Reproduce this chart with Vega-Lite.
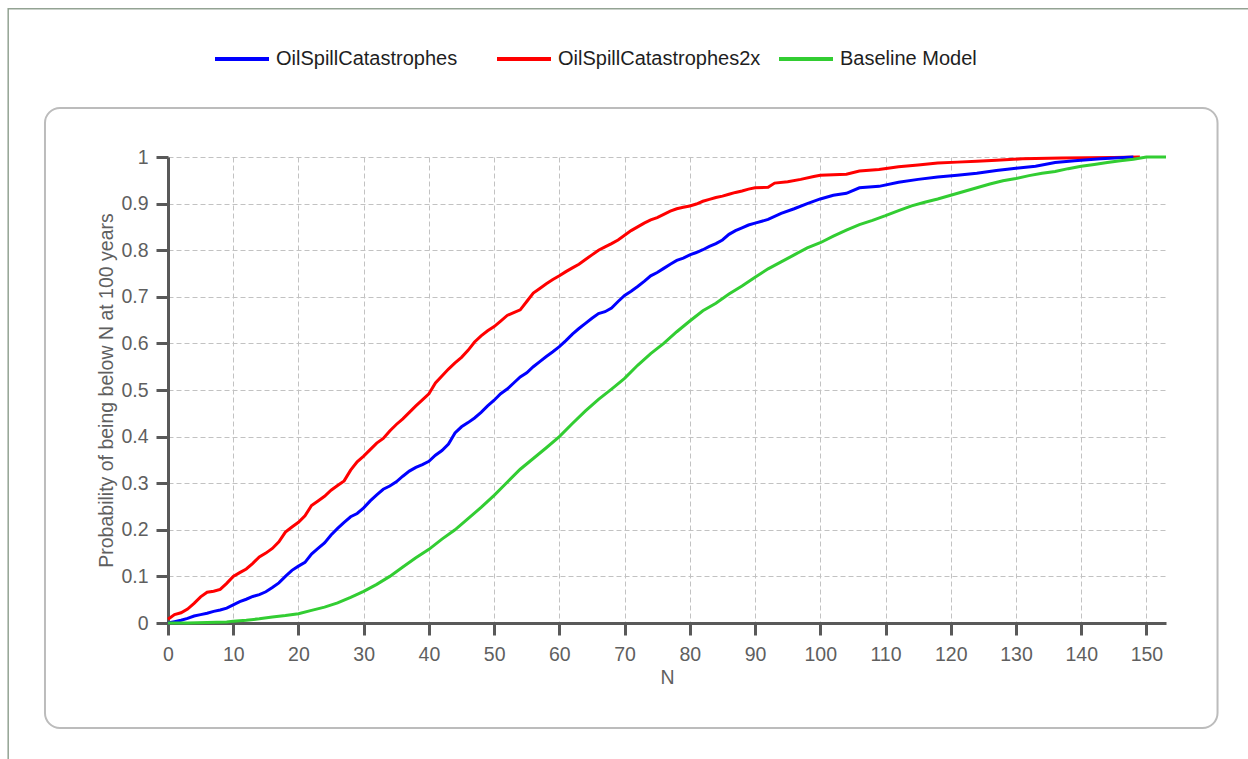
{
  "$schema": "https://vega.github.io/schema/vega-lite/v6.json",
  "width": 998,
  "height": 466,
  "autosize": {"type": "none"},
  "padding": {"left": 168, "top": 157, "right": 82, "bottom": 136},
  "background": "white",
  "config": {
    "view": {"stroke": null},
    "font": "Liberation Sans",
    "axis": {
      "domainColor": "#595959",
      "domainWidth": 3,
      "tickColor": "#595959",
      "tickWidth": 3,
      "gridColor": "#c2c2c2",
      "gridDash": [5, 3],
      "gridWidth": 1,
      "labelFont": "Liberation Sans",
      "labelFontSize": 19.5,
      "labelColor": "#5f5f5f",
      "titleFont": "Liberation Sans",
      "titleFontSize": 19.5,
      "titleFontWeight": "normal",
      "titleColor": "#5f5f5f"
    }
  },
  "datasets": {
    "curves": [
      {"s": "OilSpillCatastrophes2x", "N": 0, "p": 0.008},
      {"s": "OilSpillCatastrophes2x", "N": 1, "p": 0.018},
      {"s": "OilSpillCatastrophes2x", "N": 2, "p": 0.022},
      {"s": "OilSpillCatastrophes2x", "N": 3, "p": 0.03},
      {"s": "OilSpillCatastrophes2x", "N": 4, "p": 0.042},
      {"s": "OilSpillCatastrophes2x", "N": 5, "p": 0.056},
      {"s": "OilSpillCatastrophes2x", "N": 6, "p": 0.066},
      {"s": "OilSpillCatastrophes2x", "N": 7, "p": 0.068},
      {"s": "OilSpillCatastrophes2x", "N": 8, "p": 0.072},
      {"s": "OilSpillCatastrophes2x", "N": 9, "p": 0.085},
      {"s": "OilSpillCatastrophes2x", "N": 10, "p": 0.1},
      {"s": "OilSpillCatastrophes2x", "N": 11, "p": 0.108},
      {"s": "OilSpillCatastrophes2x", "N": 12, "p": 0.116},
      {"s": "OilSpillCatastrophes2x", "N": 13, "p": 0.128},
      {"s": "OilSpillCatastrophes2x", "N": 14, "p": 0.142},
      {"s": "OilSpillCatastrophes2x", "N": 15, "p": 0.15},
      {"s": "OilSpillCatastrophes2x", "N": 16, "p": 0.16},
      {"s": "OilSpillCatastrophes2x", "N": 17, "p": 0.174},
      {"s": "OilSpillCatastrophes2x", "N": 18, "p": 0.195},
      {"s": "OilSpillCatastrophes2x", "N": 19, "p": 0.206},
      {"s": "OilSpillCatastrophes2x", "N": 20, "p": 0.216},
      {"s": "OilSpillCatastrophes2x", "N": 21, "p": 0.23},
      {"s": "OilSpillCatastrophes2x", "N": 22, "p": 0.252},
      {"s": "OilSpillCatastrophes2x", "N": 23, "p": 0.262},
      {"s": "OilSpillCatastrophes2x", "N": 24, "p": 0.272},
      {"s": "OilSpillCatastrophes2x", "N": 25, "p": 0.285},
      {"s": "OilSpillCatastrophes2x", "N": 26, "p": 0.295},
      {"s": "OilSpillCatastrophes2x", "N": 27, "p": 0.305},
      {"s": "OilSpillCatastrophes2x", "N": 28, "p": 0.328},
      {"s": "OilSpillCatastrophes2x", "N": 29, "p": 0.346},
      {"s": "OilSpillCatastrophes2x", "N": 30, "p": 0.358},
      {"s": "OilSpillCatastrophes2x", "N": 31, "p": 0.372},
      {"s": "OilSpillCatastrophes2x", "N": 32, "p": 0.386},
      {"s": "OilSpillCatastrophes2x", "N": 33, "p": 0.396},
      {"s": "OilSpillCatastrophes2x", "N": 34, "p": 0.412},
      {"s": "OilSpillCatastrophes2x", "N": 35, "p": 0.426},
      {"s": "OilSpillCatastrophes2x", "N": 36, "p": 0.438},
      {"s": "OilSpillCatastrophes2x", "N": 37, "p": 0.452},
      {"s": "OilSpillCatastrophes2x", "N": 38, "p": 0.466},
      {"s": "OilSpillCatastrophes2x", "N": 39, "p": 0.479},
      {"s": "OilSpillCatastrophes2x", "N": 40, "p": 0.492},
      {"s": "OilSpillCatastrophes2x", "N": 41, "p": 0.515},
      {"s": "OilSpillCatastrophes2x", "N": 42, "p": 0.53},
      {"s": "OilSpillCatastrophes2x", "N": 43, "p": 0.545},
      {"s": "OilSpillCatastrophes2x", "N": 44, "p": 0.558},
      {"s": "OilSpillCatastrophes2x", "N": 45, "p": 0.57},
      {"s": "OilSpillCatastrophes2x", "N": 46, "p": 0.585},
      {"s": "OilSpillCatastrophes2x", "N": 47, "p": 0.603},
      {"s": "OilSpillCatastrophes2x", "N": 48, "p": 0.616},
      {"s": "OilSpillCatastrophes2x", "N": 49, "p": 0.627},
      {"s": "OilSpillCatastrophes2x", "N": 50, "p": 0.636},
      {"s": "OilSpillCatastrophes2x", "N": 51, "p": 0.648},
      {"s": "OilSpillCatastrophes2x", "N": 52, "p": 0.66},
      {"s": "OilSpillCatastrophes2x", "N": 53, "p": 0.666},
      {"s": "OilSpillCatastrophes2x", "N": 54, "p": 0.672},
      {"s": "OilSpillCatastrophes2x", "N": 55, "p": 0.69},
      {"s": "OilSpillCatastrophes2x", "N": 56, "p": 0.708},
      {"s": "OilSpillCatastrophes2x", "N": 57, "p": 0.718},
      {"s": "OilSpillCatastrophes2x", "N": 58, "p": 0.728},
      {"s": "OilSpillCatastrophes2x", "N": 59, "p": 0.737},
      {"s": "OilSpillCatastrophes2x", "N": 60, "p": 0.745},
      {"s": "OilSpillCatastrophes2x", "N": 61, "p": 0.754},
      {"s": "OilSpillCatastrophes2x", "N": 62, "p": 0.762},
      {"s": "OilSpillCatastrophes2x", "N": 63, "p": 0.77},
      {"s": "OilSpillCatastrophes2x", "N": 64, "p": 0.78},
      {"s": "OilSpillCatastrophes2x", "N": 65, "p": 0.79},
      {"s": "OilSpillCatastrophes2x", "N": 66, "p": 0.8},
      {"s": "OilSpillCatastrophes2x", "N": 67, "p": 0.807},
      {"s": "OilSpillCatastrophes2x", "N": 68, "p": 0.814},
      {"s": "OilSpillCatastrophes2x", "N": 69, "p": 0.822},
      {"s": "OilSpillCatastrophes2x", "N": 70, "p": 0.832},
      {"s": "OilSpillCatastrophes2x", "N": 71, "p": 0.842},
      {"s": "OilSpillCatastrophes2x", "N": 72, "p": 0.85},
      {"s": "OilSpillCatastrophes2x", "N": 73, "p": 0.858},
      {"s": "OilSpillCatastrophes2x", "N": 74, "p": 0.865},
      {"s": "OilSpillCatastrophes2x", "N": 75, "p": 0.87},
      {"s": "OilSpillCatastrophes2x", "N": 76, "p": 0.877},
      {"s": "OilSpillCatastrophes2x", "N": 77, "p": 0.884},
      {"s": "OilSpillCatastrophes2x", "N": 78, "p": 0.889},
      {"s": "OilSpillCatastrophes2x", "N": 79, "p": 0.892},
      {"s": "OilSpillCatastrophes2x", "N": 80, "p": 0.895},
      {"s": "OilSpillCatastrophes2x", "N": 81, "p": 0.899},
      {"s": "OilSpillCatastrophes2x", "N": 82, "p": 0.905},
      {"s": "OilSpillCatastrophes2x", "N": 83, "p": 0.909},
      {"s": "OilSpillCatastrophes2x", "N": 84, "p": 0.913},
      {"s": "OilSpillCatastrophes2x", "N": 85, "p": 0.916},
      {"s": "OilSpillCatastrophes2x", "N": 86, "p": 0.92},
      {"s": "OilSpillCatastrophes2x", "N": 87, "p": 0.924},
      {"s": "OilSpillCatastrophes2x", "N": 88, "p": 0.927},
      {"s": "OilSpillCatastrophes2x", "N": 89, "p": 0.931},
      {"s": "OilSpillCatastrophes2x", "N": 90, "p": 0.934},
      {"s": "OilSpillCatastrophes2x", "N": 92, "p": 0.935},
      {"s": "OilSpillCatastrophes2x", "N": 93, "p": 0.944},
      {"s": "OilSpillCatastrophes2x", "N": 95, "p": 0.947},
      {"s": "OilSpillCatastrophes2x", "N": 97, "p": 0.952},
      {"s": "OilSpillCatastrophes2x", "N": 99, "p": 0.958},
      {"s": "OilSpillCatastrophes2x", "N": 100, "p": 0.961},
      {"s": "OilSpillCatastrophes2x", "N": 104, "p": 0.963},
      {"s": "OilSpillCatastrophes2x", "N": 106, "p": 0.97},
      {"s": "OilSpillCatastrophes2x", "N": 109, "p": 0.973},
      {"s": "OilSpillCatastrophes2x", "N": 112, "p": 0.979},
      {"s": "OilSpillCatastrophes2x", "N": 115, "p": 0.983},
      {"s": "OilSpillCatastrophes2x", "N": 118, "p": 0.987},
      {"s": "OilSpillCatastrophes2x", "N": 121, "p": 0.989},
      {"s": "OilSpillCatastrophes2x", "N": 124, "p": 0.991},
      {"s": "OilSpillCatastrophes2x", "N": 127, "p": 0.993},
      {"s": "OilSpillCatastrophes2x", "N": 131, "p": 0.996},
      {"s": "OilSpillCatastrophes2x", "N": 137, "p": 0.998},
      {"s": "OilSpillCatastrophes2x", "N": 145, "p": 0.999},
      {"s": "OilSpillCatastrophes2x", "N": 149, "p": 1.0},

      {"s": "OilSpillCatastrophes", "N": 0, "p": 0.0},
      {"s": "OilSpillCatastrophes", "N": 1, "p": 0.003},
      {"s": "OilSpillCatastrophes", "N": 2, "p": 0.006},
      {"s": "OilSpillCatastrophes", "N": 3, "p": 0.01},
      {"s": "OilSpillCatastrophes", "N": 4, "p": 0.015},
      {"s": "OilSpillCatastrophes", "N": 5, "p": 0.018},
      {"s": "OilSpillCatastrophes", "N": 6, "p": 0.021},
      {"s": "OilSpillCatastrophes", "N": 7, "p": 0.025},
      {"s": "OilSpillCatastrophes", "N": 8, "p": 0.028},
      {"s": "OilSpillCatastrophes", "N": 9, "p": 0.032},
      {"s": "OilSpillCatastrophes", "N": 10, "p": 0.039},
      {"s": "OilSpillCatastrophes", "N": 11, "p": 0.046},
      {"s": "OilSpillCatastrophes", "N": 12, "p": 0.051},
      {"s": "OilSpillCatastrophes", "N": 13, "p": 0.057},
      {"s": "OilSpillCatastrophes", "N": 14, "p": 0.061},
      {"s": "OilSpillCatastrophes", "N": 15, "p": 0.067},
      {"s": "OilSpillCatastrophes", "N": 16, "p": 0.076},
      {"s": "OilSpillCatastrophes", "N": 17, "p": 0.086},
      {"s": "OilSpillCatastrophes", "N": 18, "p": 0.1},
      {"s": "OilSpillCatastrophes", "N": 19, "p": 0.113},
      {"s": "OilSpillCatastrophes", "N": 20, "p": 0.122},
      {"s": "OilSpillCatastrophes", "N": 21, "p": 0.13},
      {"s": "OilSpillCatastrophes", "N": 22, "p": 0.148},
      {"s": "OilSpillCatastrophes", "N": 23, "p": 0.16},
      {"s": "OilSpillCatastrophes", "N": 24, "p": 0.172},
      {"s": "OilSpillCatastrophes", "N": 25, "p": 0.189},
      {"s": "OilSpillCatastrophes", "N": 26, "p": 0.203},
      {"s": "OilSpillCatastrophes", "N": 27, "p": 0.216},
      {"s": "OilSpillCatastrophes", "N": 28, "p": 0.228},
      {"s": "OilSpillCatastrophes", "N": 29, "p": 0.235},
      {"s": "OilSpillCatastrophes", "N": 30, "p": 0.247},
      {"s": "OilSpillCatastrophes", "N": 31, "p": 0.262},
      {"s": "OilSpillCatastrophes", "N": 32, "p": 0.275},
      {"s": "OilSpillCatastrophes", "N": 33, "p": 0.287},
      {"s": "OilSpillCatastrophes", "N": 34, "p": 0.294},
      {"s": "OilSpillCatastrophes", "N": 35, "p": 0.303},
      {"s": "OilSpillCatastrophes", "N": 36, "p": 0.315},
      {"s": "OilSpillCatastrophes", "N": 37, "p": 0.326},
      {"s": "OilSpillCatastrophes", "N": 38, "p": 0.334},
      {"s": "OilSpillCatastrophes", "N": 39, "p": 0.34},
      {"s": "OilSpillCatastrophes", "N": 40, "p": 0.347},
      {"s": "OilSpillCatastrophes", "N": 41, "p": 0.36},
      {"s": "OilSpillCatastrophes", "N": 42, "p": 0.37},
      {"s": "OilSpillCatastrophes", "N": 43, "p": 0.384},
      {"s": "OilSpillCatastrophes", "N": 44, "p": 0.408},
      {"s": "OilSpillCatastrophes", "N": 45, "p": 0.421},
      {"s": "OilSpillCatastrophes", "N": 46, "p": 0.43},
      {"s": "OilSpillCatastrophes", "N": 47, "p": 0.44},
      {"s": "OilSpillCatastrophes", "N": 48, "p": 0.452},
      {"s": "OilSpillCatastrophes", "N": 49, "p": 0.466},
      {"s": "OilSpillCatastrophes", "N": 50, "p": 0.478},
      {"s": "OilSpillCatastrophes", "N": 51, "p": 0.492},
      {"s": "OilSpillCatastrophes", "N": 52, "p": 0.502},
      {"s": "OilSpillCatastrophes", "N": 53, "p": 0.515},
      {"s": "OilSpillCatastrophes", "N": 54, "p": 0.528},
      {"s": "OilSpillCatastrophes", "N": 55, "p": 0.537},
      {"s": "OilSpillCatastrophes", "N": 56, "p": 0.55},
      {"s": "OilSpillCatastrophes", "N": 57, "p": 0.561},
      {"s": "OilSpillCatastrophes", "N": 58, "p": 0.572},
      {"s": "OilSpillCatastrophes", "N": 59, "p": 0.582},
      {"s": "OilSpillCatastrophes", "N": 60, "p": 0.593},
      {"s": "OilSpillCatastrophes", "N": 61, "p": 0.606},
      {"s": "OilSpillCatastrophes", "N": 62, "p": 0.62},
      {"s": "OilSpillCatastrophes", "N": 63, "p": 0.632},
      {"s": "OilSpillCatastrophes", "N": 64, "p": 0.643},
      {"s": "OilSpillCatastrophes", "N": 65, "p": 0.654},
      {"s": "OilSpillCatastrophes", "N": 66, "p": 0.664},
      {"s": "OilSpillCatastrophes", "N": 67, "p": 0.668},
      {"s": "OilSpillCatastrophes", "N": 68, "p": 0.676},
      {"s": "OilSpillCatastrophes", "N": 69, "p": 0.69},
      {"s": "OilSpillCatastrophes", "N": 70, "p": 0.703},
      {"s": "OilSpillCatastrophes", "N": 71, "p": 0.712},
      {"s": "OilSpillCatastrophes", "N": 72, "p": 0.722},
      {"s": "OilSpillCatastrophes", "N": 73, "p": 0.733},
      {"s": "OilSpillCatastrophes", "N": 74, "p": 0.745},
      {"s": "OilSpillCatastrophes", "N": 75, "p": 0.752},
      {"s": "OilSpillCatastrophes", "N": 76, "p": 0.761},
      {"s": "OilSpillCatastrophes", "N": 77, "p": 0.77},
      {"s": "OilSpillCatastrophes", "N": 78, "p": 0.778},
      {"s": "OilSpillCatastrophes", "N": 79, "p": 0.783},
      {"s": "OilSpillCatastrophes", "N": 80, "p": 0.79},
      {"s": "OilSpillCatastrophes", "N": 81, "p": 0.795},
      {"s": "OilSpillCatastrophes", "N": 82, "p": 0.801},
      {"s": "OilSpillCatastrophes", "N": 83, "p": 0.808},
      {"s": "OilSpillCatastrophes", "N": 84, "p": 0.814},
      {"s": "OilSpillCatastrophes", "N": 85, "p": 0.822},
      {"s": "OilSpillCatastrophes", "N": 86, "p": 0.834},
      {"s": "OilSpillCatastrophes", "N": 87, "p": 0.842},
      {"s": "OilSpillCatastrophes", "N": 88, "p": 0.848},
      {"s": "OilSpillCatastrophes", "N": 89, "p": 0.854},
      {"s": "OilSpillCatastrophes", "N": 90, "p": 0.858},
      {"s": "OilSpillCatastrophes", "N": 92, "p": 0.866},
      {"s": "OilSpillCatastrophes", "N": 94, "p": 0.879},
      {"s": "OilSpillCatastrophes", "N": 96, "p": 0.889},
      {"s": "OilSpillCatastrophes", "N": 98, "p": 0.9},
      {"s": "OilSpillCatastrophes", "N": 100, "p": 0.91},
      {"s": "OilSpillCatastrophes", "N": 102, "p": 0.918},
      {"s": "OilSpillCatastrophes", "N": 104, "p": 0.922},
      {"s": "OilSpillCatastrophes", "N": 106, "p": 0.934},
      {"s": "OilSpillCatastrophes", "N": 109, "p": 0.937},
      {"s": "OilSpillCatastrophes", "N": 112, "p": 0.946},
      {"s": "OilSpillCatastrophes", "N": 115, "p": 0.952},
      {"s": "OilSpillCatastrophes", "N": 118, "p": 0.957},
      {"s": "OilSpillCatastrophes", "N": 121, "p": 0.961},
      {"s": "OilSpillCatastrophes", "N": 124, "p": 0.965},
      {"s": "OilSpillCatastrophes", "N": 127, "p": 0.971},
      {"s": "OilSpillCatastrophes", "N": 130, "p": 0.976},
      {"s": "OilSpillCatastrophes", "N": 133, "p": 0.98},
      {"s": "OilSpillCatastrophes", "N": 136, "p": 0.988},
      {"s": "OilSpillCatastrophes", "N": 139, "p": 0.992},
      {"s": "OilSpillCatastrophes", "N": 143, "p": 0.996},
      {"s": "OilSpillCatastrophes", "N": 148, "p": 1.0},

      {"s": "Baseline Model", "N": 0, "p": 0.0},
      {"s": "Baseline Model", "N": 3, "p": 0.0},
      {"s": "Baseline Model", "N": 6, "p": 0.001},
      {"s": "Baseline Model", "N": 9, "p": 0.002},
      {"s": "Baseline Model", "N": 10, "p": 0.004},
      {"s": "Baseline Model", "N": 12, "p": 0.006},
      {"s": "Baseline Model", "N": 14, "p": 0.009},
      {"s": "Baseline Model", "N": 16, "p": 0.013},
      {"s": "Baseline Model", "N": 18, "p": 0.016},
      {"s": "Baseline Model", "N": 20, "p": 0.02},
      {"s": "Baseline Model", "N": 22, "p": 0.027},
      {"s": "Baseline Model", "N": 24, "p": 0.034},
      {"s": "Baseline Model", "N": 26, "p": 0.043},
      {"s": "Baseline Model", "N": 28, "p": 0.055},
      {"s": "Baseline Model", "N": 30, "p": 0.068},
      {"s": "Baseline Model", "N": 32, "p": 0.083},
      {"s": "Baseline Model", "N": 34, "p": 0.1},
      {"s": "Baseline Model", "N": 36, "p": 0.12},
      {"s": "Baseline Model", "N": 38, "p": 0.14},
      {"s": "Baseline Model", "N": 40, "p": 0.158},
      {"s": "Baseline Model", "N": 42, "p": 0.18},
      {"s": "Baseline Model", "N": 44, "p": 0.2},
      {"s": "Baseline Model", "N": 46, "p": 0.224},
      {"s": "Baseline Model", "N": 48, "p": 0.248},
      {"s": "Baseline Model", "N": 50, "p": 0.274},
      {"s": "Baseline Model", "N": 52, "p": 0.302},
      {"s": "Baseline Model", "N": 54, "p": 0.33},
      {"s": "Baseline Model", "N": 56, "p": 0.353},
      {"s": "Baseline Model", "N": 58, "p": 0.376},
      {"s": "Baseline Model", "N": 60, "p": 0.4},
      {"s": "Baseline Model", "N": 62, "p": 0.428},
      {"s": "Baseline Model", "N": 64, "p": 0.455},
      {"s": "Baseline Model", "N": 66, "p": 0.48},
      {"s": "Baseline Model", "N": 68, "p": 0.502},
      {"s": "Baseline Model", "N": 70, "p": 0.525},
      {"s": "Baseline Model", "N": 72, "p": 0.553},
      {"s": "Baseline Model", "N": 74, "p": 0.578},
      {"s": "Baseline Model", "N": 76, "p": 0.6},
      {"s": "Baseline Model", "N": 78, "p": 0.625},
      {"s": "Baseline Model", "N": 80, "p": 0.648},
      {"s": "Baseline Model", "N": 82, "p": 0.67},
      {"s": "Baseline Model", "N": 84, "p": 0.686},
      {"s": "Baseline Model", "N": 86, "p": 0.706},
      {"s": "Baseline Model", "N": 88, "p": 0.723},
      {"s": "Baseline Model", "N": 90, "p": 0.742},
      {"s": "Baseline Model", "N": 92, "p": 0.76},
      {"s": "Baseline Model", "N": 94, "p": 0.775},
      {"s": "Baseline Model", "N": 96, "p": 0.79},
      {"s": "Baseline Model", "N": 98, "p": 0.805},
      {"s": "Baseline Model", "N": 100, "p": 0.816},
      {"s": "Baseline Model", "N": 102, "p": 0.83},
      {"s": "Baseline Model", "N": 104, "p": 0.843},
      {"s": "Baseline Model", "N": 106, "p": 0.855},
      {"s": "Baseline Model", "N": 108, "p": 0.864},
      {"s": "Baseline Model", "N": 110, "p": 0.874},
      {"s": "Baseline Model", "N": 112, "p": 0.885},
      {"s": "Baseline Model", "N": 114, "p": 0.895},
      {"s": "Baseline Model", "N": 116, "p": 0.903},
      {"s": "Baseline Model", "N": 118, "p": 0.91},
      {"s": "Baseline Model", "N": 120, "p": 0.918},
      {"s": "Baseline Model", "N": 122, "p": 0.926},
      {"s": "Baseline Model", "N": 124, "p": 0.934},
      {"s": "Baseline Model", "N": 126, "p": 0.942},
      {"s": "Baseline Model", "N": 128, "p": 0.949},
      {"s": "Baseline Model", "N": 130, "p": 0.954},
      {"s": "Baseline Model", "N": 132, "p": 0.96},
      {"s": "Baseline Model", "N": 134, "p": 0.965},
      {"s": "Baseline Model", "N": 136, "p": 0.969},
      {"s": "Baseline Model", "N": 138, "p": 0.975},
      {"s": "Baseline Model", "N": 140, "p": 0.98},
      {"s": "Baseline Model", "N": 142, "p": 0.984},
      {"s": "Baseline Model", "N": 144, "p": 0.988},
      {"s": "Baseline Model", "N": 146, "p": 0.992},
      {"s": "Baseline Model", "N": 148, "p": 0.995},
      {"s": "Baseline Model", "N": 150, "p": 1.0},
      {"s": "Baseline Model", "N": 153, "p": 1.0}
    ]
  },
  "layer": [
    {
      "description": "window frame edge",
      "data": {"values": [{}]},
      "mark": {"type": "rect", "clip": false, "fill": null, "stroke": "#93a393", "strokeWidth": 1.5},
      "encoding": {
        "x": {"datum": -24.5, "type": "quantitative", "scale": {"domain": [0, 153]}},
        "x2": {"datum": 200},
        "y": {"datum": 1.318, "type": "quantitative", "scale": {"domain": [0, 1]}},
        "y2": {"datum": -1}
      }
    },
    {
      "description": "rounded chart-area panel",
      "data": {"values": [{}]},
      "mark": {"type": "rect", "clip": false, "fill": null, "stroke": "#bcbcbc", "strokeWidth": 2, "cornerRadius": 15},
      "encoding": {
        "x": {"datum": -18.86, "type": "quantitative", "scale": {"domain": [0, 153]}},
        "x2": {"datum": 160.9},
        "y": {"datum": 1.1052, "type": "quantitative", "scale": {"domain": [0, 1]}},
        "y2": {"datum": -0.2253}
      }
    },
    {
      "data": {"name": "curves"},
      "mark": {"type": "line", "strokeWidth": 3, "clip": false},
      "encoding": {
        "x": {
          "field": "N",
          "type": "quantitative",
          "scale": {"domain": [0, 153], "nice": false, "zero": false},
          "axis": {
            "title": "N",
            "values": [0, 5, 10, 15, 20, 25, 30, 35, 40, 45, 50, 55, 60, 65, 70, 75, 80, 85, 90, 95, 100, 105, 110, 115, 120, 125, 130, 135, 140, 145, 150],
            "format": "d",
            "labelExpr": "datum.value % 10 === 0 ? datum.label : ''",
            "tickSize": {"condition": {"test": "datum.value % 10 === 0", "value": 12}, "value": 8},
            "grid": true,
            "gridOpacity": {"condition": {"test": "datum.value % 10 === 0 && datum.value > 0", "value": 1}, "value": 0},
            "labelPadding": 10,
            "labelFlush": false,
            "labelOverlap": false,
            "titlePadding": 5
          }
        },
        "y": {
          "field": "p",
          "type": "quantitative",
          "scale": {"domain": [0, 1], "nice": false},
          "axis": {
            "title": "Probability of being below N at 100 years",
            "values": [0, 0.05, 0.1, 0.15, 0.2, 0.25, 0.3, 0.35, 0.4, 0.45, 0.5, 0.55, 0.6, 0.65, 0.7, 0.75, 0.8, 0.85, 0.9, 0.95, 1],
            "format": ".2~f",
            "labelExpr": "round(datum.value * 20) % 2 === 0 ? datum.label : ''",
            "tickSize": {"condition": {"test": "round(datum.value * 20) % 2 === 0", "value": 12}, "value": 8},
            "grid": true,
            "gridOpacity": {"condition": {"test": "round(datum.value * 20) % 2 === 0 && datum.value > 0", "value": 1}, "value": 0},
            "labelPadding": 8,
            "labelFlush": false,
            "labelOverlap": false,
            "titlePadding": 4
          }
        },
        "color": {
          "field": "s",
          "type": "nominal",
          "scale": {
            "domain": ["OilSpillCatastrophes", "OilSpillCatastrophes2x", "Baseline Model"],
            "range": ["#0000ff", "#ff0000", "#32cd32"]
          },
          "legend": {
            "title": null,
            "orient": "none",
            "direction": "horizontal",
            "legendX": 45,
            "legendY": -127,
            "symbolType": "stroke",
            "symbolSize": 2916,
            "symbolStrokeWidth": 4,
            "labelFont": "Liberation Sans",
            "labelFontSize": 20,
            "labelColor": "#1e1e1e",
            "labelOffset": 5,
            "columnPadding": 10,
            "gridAlign": "all",
            "padding": 0,
            "labelLimit": 400
          }
        }
      }
    }
  ]
}
